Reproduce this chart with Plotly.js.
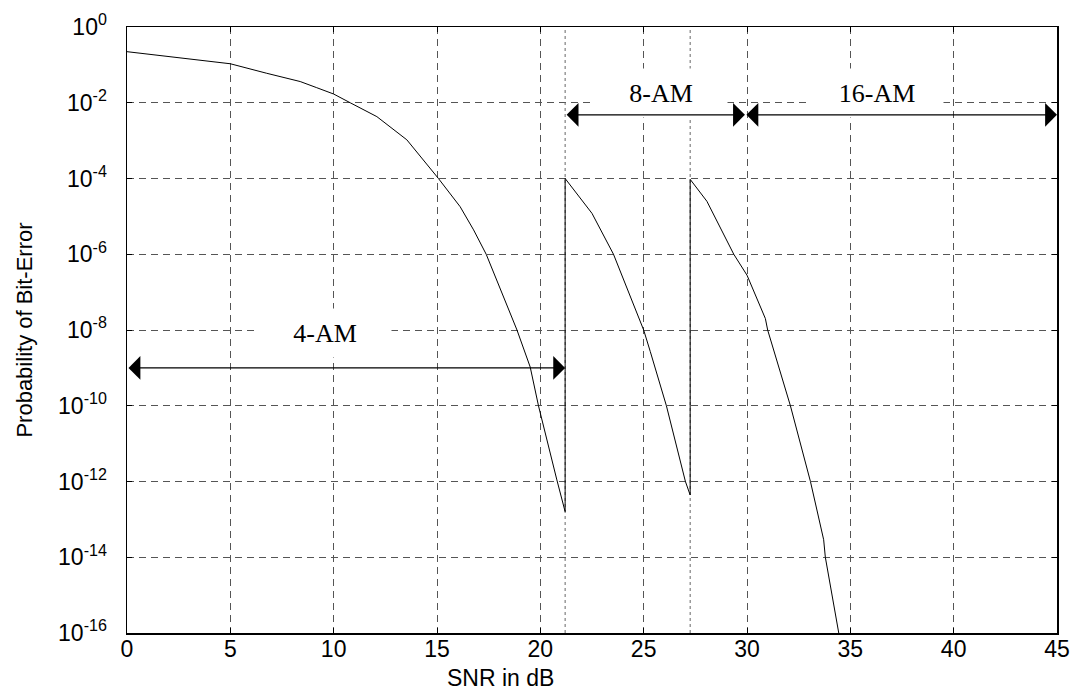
<!DOCTYPE html>
<html><head><meta charset="utf-8">
<script src="https://cdn.plot.ly/plotly-3.0.1.min.js"></script>
<style>html,body{margin:0;padding:0;background:#fff}#chart{width:1078px;height:698px}</style>
</head><body><div id="chart"></div>
<script>
// SNR (dB) and bit-error probability (adaptive 4/8/16-AM)
const snrDb = [0, 2.24, 3.53, 5, 6.76, 8.38, 9.18, 10, 10.8, 12.09, 13.54, 15.07, 16.12, 16.77, 17.38, 18.14, 18.87, 19.51, 19.91, 20.8, 21.2,
  21.2, 22.5, 23.54, 25.0, 25.32, 26.1, 27.02, 27.25,
  27.25, 28.06, 29.36, 30.0, 30.89, 31.0, 32.1, 33.07, 33.71, 33.79, 34.44];
const bitErr = [0.223, 0.158, 0.129, 0.107, 0.060, 0.0363, 0.025, 0.017, 1.0e-2, 4.3e-3, 1.05e-3, 1.0e-4, 1.8e-5, 4.4e-6, 1.0e-6, 1.0e-7, 1.0e-8, 1.05e-9, 1.0e-10, 1.1e-12, 1.6e-13,
  1.0e-4, 1.2e-5, 1.0e-6, 1.0e-8, 2.7e-9, 1.0e-10, 1.0e-12, 4.4e-13,
  9.5e-5, 2.5e-5, 1.0e-6, 2.8e-7, 2.0e-8, 1.0e-8, 1.0e-10, 1.0e-12, 2.9e-14, 1.0e-14, 1.0e-16];
const switchSnr = [21.2, 27.25];
const modeLabels = ['4-AM', '8-AM', '16-AM'];
const modeFrom = [0, 21.2, 29.9];
const modeTo = [21.2, 29.9, 45];
const arrowPb = [1e-9, 4.8e-3, 4.8e-3];
const labelSnr = [9.6, 25.85, 36.3];
const labelPb = [8.3e-9, 1.86e-2, 1.86e-2];
const xTicks = [0, 5, 10, 15, 20, 25, 30, 35, 40, 45];
const yTickExp = [0, -2, -4, -6, -8, -10, -12, -14, -16];

const yTickVals = yTickExp.map(e => Math.pow(10, e));
const yTickText = yTickExp.map(e => '10<sup>' + e + '</sup>');

const vx = [], vy = [];
switchSnr.forEach(s => { vx.push(s, s, null); vy.push(1e-16, 1, null); });

const traces = [
  {x: vx, y: vy, mode: 'lines', line: {color: '#666', width: 1, dash: 'dot'}, hoverinfo: 'skip', showlegend: false},
  {x: snrDb, y: bitErr, mode: 'lines', line: {color: '#000', width: 1}, showlegend: false}
];

const annotations = [];
modeLabels.forEach((t, i) => {
  annotations.push({
    x: labelSnr[i], y: Math.log10(labelPb[i]), xref: 'x', yref: 'y',
    text: t, showarrow: false, bgcolor: '#fff', width: 132, height: 48, borderpad: 0,
    font: {family: '"Liberation Serif", "Times New Roman", serif', size: 26, color: '#000'}
  });
});
modeLabels.forEach((t, i) => {
  annotations.push({
    x: modeTo[i], y: Math.log10(arrowPb[i]), ax: modeFrom[i], ay: Math.log10(arrowPb[i]),
    xref: 'x', yref: 'y', axref: 'x', ayref: 'y', text: '', showarrow: true,
    arrowhead: 1, arrowside: 'end+start', arrowwidth: 1.2, arrowsize: 3.3, arrowcolor: '#000',
    standoff: 0, startstandoff: 0
  });
});
annotations.push({
  x: 0.402, y: -0.074, xref: 'paper', yref: 'paper', xanchor: 'center', yanchor: 'middle',
  text: 'SNR in dB', showarrow: false,
  font: {family: '"Liberation Sans", Arial, sans-serif', size: 23, color: '#000'}
});

const tickFont = {family: '"Liberation Sans", Arial, sans-serif', size: 23, color: '#000'};

const layout = {
  width: 1078, height: 698,
  margin: {l: 127, r: 21, t: 27, b: 65},
  paper_bgcolor: '#fff', plot_bgcolor: '#fff',
  showlegend: false,
  xaxis: {
    range: [0, 45], tickvals: xTicks, ticktext: xTicks.map(String),
    showgrid: true, gridcolor: '#555', griddash: '7px,5px', gridwidth: 1,
    zeroline: false, showline: true, linecolor: '#000', linewidth: 1.5, mirror: 'ticks',
    ticks: 'inside', ticklen: 5, tickcolor: '#000', tickfont: tickFont, ticklabelstandoff: -5
  },
  yaxis: {
    type: 'log', range: [-16, 0], tickvals: yTickVals, ticktext: yTickText,
    showgrid: true, gridcolor: '#555', griddash: '7px,5px', gridwidth: 1,
    zeroline: false, showline: true, linecolor: '#000', linewidth: 1.5, mirror: 'ticks',
    ticks: 'inside', ticklen: 5, tickcolor: '#000', tickfont: tickFont, ticklabelstandoff: 14,
    title: {text: 'Probability of Bit-Error', standoff: 19,
      font: {family: '"Liberation Sans", Arial, sans-serif', size: 22, color: '#000'}}
  },
  annotations: annotations
};

Plotly.newPlot('chart', traces, layout, {displayModeBar: false, staticPlot: true});
</script>
</body></html>
